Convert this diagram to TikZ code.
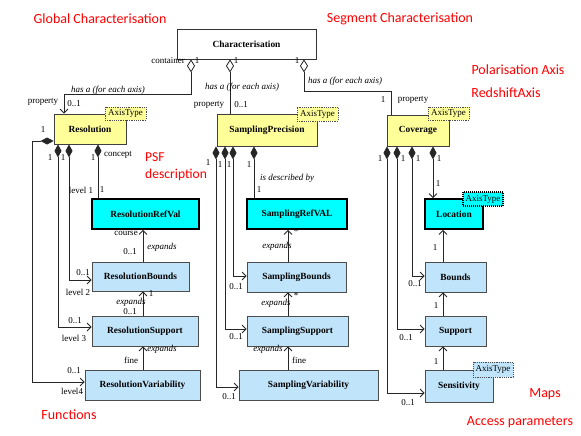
\documentclass[tikz,border=0pt]{standalone}
\usepackage{fontspec}
\setmainfont{Liberation Serif}
\newfontfamily\calfont{Carlito}
\usetikzlibrary{arrows.meta}
\definecolor{yel}{RGB}{255,255,153}
\definecolor{lblue}{RGB}{192,228,250}
\definecolor{cya}{RGB}{0,255,255}
\definecolor{redc}{RGB}{255,0,0}
\begin{document}
\begin{tikzpicture}[x=1pt,y=-1pt,
 box/.style={draw,inner sep=0pt,font=\bfseries\fontsize{9.4}{11}\selectfont,anchor=center},
 whtbox/.style={box,fill=white,draw=black!80,line width=0.8pt},
 yelbox/.style={box,fill=yel,draw=black!75,line width=0.8pt},
 cyabox/.style={box,fill=cya,draw=black,line width=1.8pt},
 blubox/.style={box,fill=lblue,draw=black!70,line width=0.8pt},
 tagbox/.style={draw=black!70,dash pattern=on 1.2pt off 1pt,line width=0.6pt,inner sep=0pt,font=\fontsize{9}{10}\selectfont,anchor=center},
 lbl/.style={font=\fontsize{9}{10}\selectfont,inner sep=0pt},
 ilbl/.style={font=\itshape\fontsize{9}{10}\selectfont,inner sep=0pt},
 redlbl/.style={font=\calfont\fontsize{14}{17}\selectfont,text=redc,inner sep=0pt},
 conn/.style={draw=black!85,line width=0.8pt},
 comp/.style={conn,{Diamond[length=13pt,width=7pt]}-},
 compa/.style={conn,{Diamond[length=13pt,width=7pt]}-{Straight Barb[length=4pt,width=8pt]}},
 agg/.style={conn,{Diamond[fill=white,length=13pt,width=8pt]}-},
 agga/.style={conn,{Diamond[fill=white,length=13pt,width=8pt]}-{Straight Barb[length=4pt,width=8pt]}},
 nav/.style={conn,-{Straight Barb[length=4pt,width=8pt]}},
]
\fill[white] (0,0) rectangle (581,436);
\useasboundingbox (0,0) rectangle (581,436);

% boxes
\node[whtbox,minimum width=139pt,minimum height=30pt] (char) at (246.5,44) {Characterisation};
\node[yelbox,minimum width=72pt,minimum height=30pt] (res) at (90,129) {Resolution};
\node[yelbox,minimum width=100pt,minimum height=32pt] (sp) at (267,130) {SamplingPrecision};
\node[yelbox,minimum width=62pt,minimum height=31pt] (cov) at (418,130.5) {Coverage};
\node[cyabox,minimum width=107pt,minimum height=30pt] (rref) at (145.5,214) {ResolutionRefVal};
\node[blubox,minimum width=97pt,minimum height=29pt] (rbnd) at (140.5,276.5) {ResolutionBounds};
\node[blubox,minimum width=106pt,minimum height=30pt] (rsup) at (145,331) {ResolutionSupport};
\node[blubox,minimum width=115pt,minimum height=30pt] (rvar) at (142.5,385) {ResolutionVariability};
\node[cyabox,minimum width=100pt,minimum height=30pt] (sref) at (297,214) {SamplingRefVAL};
\node[blubox,minimum width=99pt,minimum height=30pt] (sbnd) at (296.5,277) {SamplingBounds};
\node[blubox,minimum width=101pt,minimum height=30pt] (ssup) at (297.5,331) {SamplingSupport};
\node[blubox,minimum width=139pt,minimum height=30pt] (svar) at (308.5,385) {SamplingVariability};
\node[cyabox,minimum width=58pt,minimum height=30pt] (loc) at (454,214) {Location};
\node[blubox,minimum width=61pt,minimum height=30pt] (bnd) at (455.5,277) {Bounds};
\node[blubox,minimum width=61pt,minimum height=30pt] (sup) at (455.5,331) {Support};
\node[blubox,minimum width=68pt,minimum height=32pt] (sens) at (459,386) {Sensitivity};

% tags
\node[tagbox,fill=yel,minimum width=41pt,minimum height=13pt] (t1) at (125.5,113.5) {AxisType};
\node[tagbox,fill=yel,minimum width=41pt,minimum height=14pt] (t2) at (317.5,114) {AxisType};
\node[tagbox,fill=yel,minimum width=41pt,minimum height=13pt] (t3) at (448.5,113.5) {AxisType};
\node[tagbox,fill=cya,draw=black,line width=1.2pt,dash pattern=on 1pt off 1pt,minimum width=40pt,minimum height=14pt] (t4) at (483,199) {AxisType};
\node[tagbox,fill=lblue,minimum width=40pt,minimum height=15pt] (t5) at (493,369.5) {AxisType};

% coordinates for connector columns
\coordinate (k1) at (191,94);
\coordinate (k2) at (64,94);
\coordinate (k3) at (230,0);
\coordinate (k4) at (304,91);
\coordinate (k5) at (391,91);
\coordinate (ra) at (58,0);
\coordinate (rb) at (69,0);
\coordinate (rc) at (98,0);
\coordinate (rx) at (143,0);
\coordinate (sa) at (216,0);
\coordinate (sb) at (225,0);
\coordinate (sc) at (233,0);
\coordinate (sd) at (254,0);
\coordinate (sx) at (288,0);
\coordinate (ca) at (387,0);
\coordinate (cb) at (397,0);
\coordinate (cc) at (412,0);
\coordinate (cd) at (433,0);
\coordinate (cx) at (443,0);

% aggregations from Characterisation
\draw[agga] (k1 |- char.south) -- (k1) -- (k2) -- (k2 |- res.north);
\draw[agg] (k3 |- char.south) -- (k3 |- sp.north);
\draw[agg] (k4 |- char.south) -- (k4) -- (k5) -- (k5 |- cov.north);

% Resolution compositions
\draw[compa] ([yshift=-12pt]res.west) -- ++(-21,0) |- ([yshift=3pt]rvar.west);
\draw[compa] (ra |- res.south) |- ([yshift=4pt]rsup.west);
\draw[compa] (rb |- res.south) |- ([yshift=-3.5pt]rbnd.west);
\draw[comp] (rc |- res.south) -- (rc |- rref.north);
\draw[nav] (rx |- rbnd.north) -- (rx |- rref.south);
\draw[nav] (rx |- rsup.north) -- (rx |- rbnd.south);
\draw[nav] (rx |- rvar.north) -- (rx |- rsup.south);

% Sampling compositions
\draw[compa] (sa |- sp.south) |- ([yshift=-2pt]svar.west);
\draw[compa] (sb |- sp.south) |- ([yshift=2pt]ssup.west);
\draw[compa] (sc |- sp.south) |- ([yshift=1pt]sbnd.west);
\draw[comp] (sd |- sp.south) -- (sd |- sref.north);
\draw[nav] (sx |- sbnd.north) -- (sx |- sref.south);
\draw[nav] (sx |- ssup.north) -- (sx |- sbnd.south);
\draw[nav] (sx |- svar.north) -- (sx |- ssup.south);

% Coverage compositions
\draw[compa] (ca |- cov.south) |- ([yshift=-7pt]sens.west);
\draw[compa] (cb |- cov.south) |- ([yshift=2pt]sup.west);
\draw[compa] (cc |- cov.south) |- ([yshift=1pt]bnd.west);
\draw[compa] (cd |- cov.south) -- (cd |- loc.north);
\draw[nav] (cx |- bnd.north) -- (cx |- loc.south);
\draw[nav] (cx |- sup.north) -- (cx |- bnd.south);
\draw[nav] (cx |- sens.north) -- (cx |- sup.south);

% labels top
\node[lbl] (L1) at (168,61) {container};
\node[lbl] (L2) at (197,61) {1};
\node[lbl] (L3) at (236,61) {1};
\node[lbl] (L4) at (297,61) {1};
\node[ilbl] (L5) at (108,90) {has a (for each axis)};
\node[ilbl] (L6) at (242,87) {has a (for each axis)};
\node[ilbl] (L7) at (345,81) {has a (for each axis)};
\node[lbl] (L8) at (43,102) {property};
\node[lbl] (L9) at (74,104) {0..1};
\node[lbl] (L10) at (209,105) {property};
\node[lbl] (L11) at (241,105) {0..1};
\node[lbl] (L12) at (383,100) {1};
\node[lbl] (L13) at (413,100) {property};

% labels Resolution
\node[lbl] (L14) at (43,130) {1};
\node[lbl] (L15) at (50,158) {1};
\node[lbl] (L16) at (63,158) {1};
\node[lbl] (L17) at (93,158) {1};
\node[lbl] (L18) at (118,155) {concept};
\node[lbl] (L19) at (81,190) {level 1};
\node[lbl] (L20) at (102,190) {1};
\node[lbl] (L21) at (126,233) {course};
\node[lbl] (L22) at (130,252) {0..1};
\node[ilbl] (L23) at (162,247) {expands};
\node[lbl] (L24) at (83,273) {0..1};
\node[lbl] (L25) at (78,292) {level 2};
\node[ilbl] (L26) at (131,302) {expands};
\node[lbl] (L27) at (130,312) {0..1};
\node[lbl] (L28) at (151,294) {1};
\node[lbl] (L29) at (75,321) {0..1};
\node[lbl] (L30) at (74,338) {level 3};
\node[ilbl] (L31) at (162,349) {expands};
\node[lbl] (L32) at (131,360) {fine};
\node[lbl] (L33) at (74,371) {0..1};
\node[lbl] (L34) at (72,391) {level4};

% labels Sampling
\node[lbl] (L35) at (208,163) {1};
\node[lbl] (L36) at (220,165) {1};
\node[lbl] (L37) at (229,165) {1};
\node[lbl] (L38) at (249,165) {1};
\node[ilbl] (L39) at (287,178) {is described by};
\node[lbl] (L40) at (259,190) {1};
\node[ilbl] (L41) at (277,246) {expands};
\node[lbl] (L42) at (296,232) {*};
\node[lbl] (L43) at (236,287) {0..1};
\node[ilbl] (L44) at (276,303) {expands};
\node[lbl] (L45) at (296,296) {*};
\node[lbl] (L46) at (236,337) {0..1};
\node[ilbl] (L47) at (268,349) {expands};
\node[lbl] (L48) at (299,360) {fine};
\node[lbl] (L49) at (229,397) {0..1};

% labels Coverage
\node[lbl] (L50) at (380,159) {1};
\node[lbl] (L51) at (403,159) {1};
\node[lbl] (L52) at (418,159) {1};
\node[lbl] (L53) at (439,159) {1};
\node[lbl] (L54) at (438,184) {1};
\node[lbl] (L55) at (415,284) {0..1};
\node[lbl] (L56) at (435,248) {1};
\node[lbl] (L57) at (436,306) {1};
\node[lbl] (L58) at (406,338) {0..1};
\node[lbl] (L59) at (436,362) {1};
\node[lbl] (L60) at (408,403) {0..1};

% red annotations
\node[redlbl] (R1) at (100,19) {Global Characterisation};
\node[redlbl] (R2) at (400,19) {Segment Characterisation};
\node[redlbl] (R3) at (518,70) {Polarisation Axis};
\node[redlbl] (R4) at (506,93) {RedshiftAxis};
\node[redlbl,anchor=west,align=left,font=\calfont\fontsize{13.6}{17}\selectfont] (R5) at (145,167) {PSF\\description};
\node[redlbl] (R6) at (69,415) {Functions};
\node[redlbl] (R7) at (545,394) {Maps};
\node[redlbl] (R8) at (520,422) {Access parameters};
\end{tikzpicture}
\end{document}
